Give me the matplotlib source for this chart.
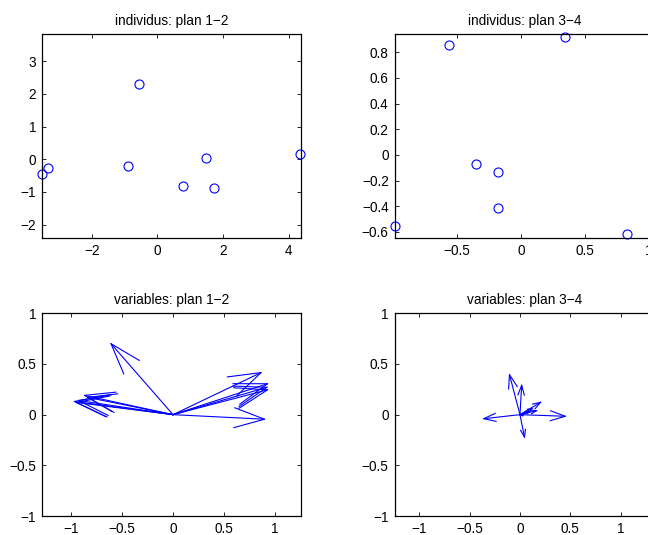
import numpy as np
import matplotlib.pyplot as plt

plt.rcParams['font.family'] = ['Liberation Sans', 'DejaVu Sans']

# individus: coordinates on principal axes
ind_x12 = [-3.50, -3.34, -0.89, -0.55, 0.79, 1.48, 1.72, 4.35]
ind_y12 = [-0.46, -0.26, -0.20, 2.30, -0.83, 0.04, -0.88, 0.16]
ind_x34 = [-0.98, -0.56, -0.35, -0.18, -0.18, 0.345, 0.83, 1.04]
ind_y34 = [-0.555, 0.854, -0.07, -0.133, -0.416, 0.92, -0.62, 0.10]

# variables: correlations with principal axes
var_u12 = [-0.97, -0.95, -0.93, -0.87, -0.84, -0.61, 0.866, 0.93, 0.925, 0.93, 0.90]
var_v12 = [0.13, 0.12, 0.14, 0.19, 0.17, 0.70, 0.415, 0.305, 0.27, 0.245, -0.045]
var_u34 = [0.06, 0.03, 0.10, 0.165, 0.12, 0.045, 0.017, 0.205, -0.104, -0.36, 0.45]
var_v34 = [0.02, -0.01, 0.03, 0.04, 0.06, -0.223, 0.29, 0.122, 0.395, -0.04, -0.016]

W, H = 648, 535
fig = plt.figure(figsize=(W / 100, H / 100), dpi=100)


def make_ax(left, top, w, h):
    return fig.add_axes([left / W, 1 - (top + h) / H, w / W, h / H])


def style(ax, title):
    ax.set_title(title, fontsize=9.8, pad=6.5)
    ax.tick_params(direction='in', length=3, width=0.6, labelsize=9.8,
                   top=True, right=True, pad=4.5)
    for s in ax.spines.values():
        s.set_linewidth(0.9)


def quiver_matlab(ax, u, v, alpha=0.33, beta=0.33):
    # MATLAB-like quiver (scale 0): shaft plus open V head
    for a, b in zip(u, v):
        ax.plot([0, a], [0, b], color='b', lw=0.8)
        hx = [a - alpha * (a + beta * b), a, a - alpha * (a - beta * b)]
        hy = [b - alpha * (b - beta * a), b, b - alpha * (b + beta * a)]
        ax.plot(hx, hy, color='b', lw=0.8)


ax1 = make_ax(42.3, 34.3, 258.7, 203.4)
ax1.plot(ind_x12, ind_y12, 'o', mfc='none', mec='b', ms=6.5, mew=0.8, clip_on=False)
ax1.set_xlim(-3.506, 4.38)
ax1.set_ylim(-2.40, 3.82)
ax1.set_xticks([-2, 0, 2, 4])
ax1.set_yticks([-2, -1, 0, 1, 2, 3])
style(ax1, 'individus: plan 1\u22122')

ax2 = make_ax(395, 34.3, 259, 203.4)
ax2.plot(ind_x34, ind_y34, 'o', mfc='none', mec='b', ms=6.5, mew=0.8, clip_on=False)
ax2.set_xlim(-0.979, 1.037)
ax2.set_ylim(-0.645, 0.94)
ax2.set_xticks([-0.5, 0, 0.5, 1])
ax2.set_yticks([-0.6, -0.4, -0.2, 0, 0.2, 0.4, 0.6, 0.8])
style(ax2, 'individus: plan 3\u22124')

ax3 = make_ax(42.3, 313.3, 258.7, 202.7)
quiver_matlab(ax3, var_u12, var_v12)
ax3.set_xlim(-1.286, 1.259)
ax3.set_ylim(-1, 1)
ax3.set_xticks([-1, -0.5, 0, 0.5, 1])
ax3.set_yticks([-1, -0.5, 0, 0.5, 1])
style(ax3, 'variables: plan 1\u22122')

ax4 = make_ax(395, 313.3, 259, 202.7)
quiver_matlab(ax4, var_u34, var_v34)
ax4.set_xlim(-1.239, 1.329)
ax4.set_ylim(-1, 1)
ax4.set_xticks([-1, -0.5, 0, 0.5, 1])
ax4.set_yticks([-1, -0.5, 0, 0.5, 1])
style(ax4, 'variables: plan 3\u22124')

for ax in (ax1, ax2, ax3, ax4):
    ax.xaxis.set_major_formatter(plt.FuncFormatter(lambda t, p: ('%g' % t).replace('-', '\u2212')))
    ax.yaxis.set_major_formatter(plt.FuncFormatter(lambda t, p: ('%g' % t).replace('-', '\u2212')))

fig.savefig('out.png', dpi=100)
